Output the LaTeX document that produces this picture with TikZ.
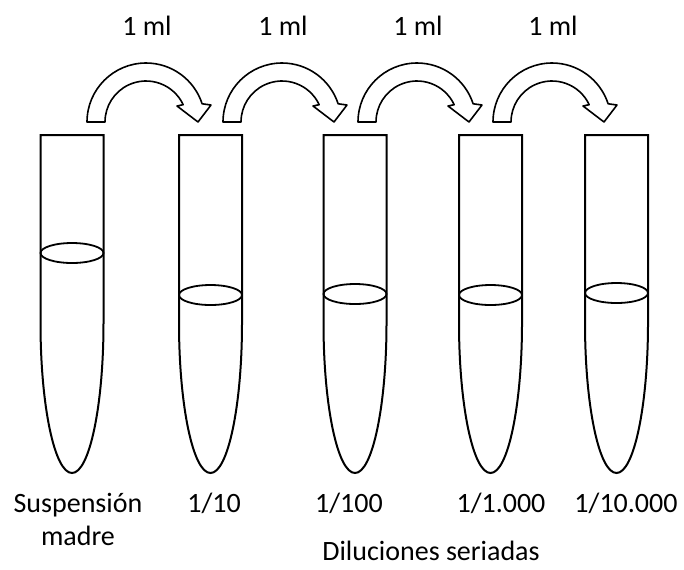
\documentclass[tikz,border=0pt]{standalone}
\usepackage{fontspec}
\setmainfont{Carlito}
\begin{document}
\begin{tikzpicture}[x=0.5pt, y=0.5pt, line width=1pt,
  font=\fontsize{14}{16.5}\selectfont,
  lbl/.style={inner sep=0pt, anchor=base, align=center},
  nivel/.style={line width=0.9pt},
  tubo/.pic={\draw (-31.5,0) -- (-31.5,-188)
      arc[start angle=180, end angle=360, x radius=31.5, y radius=150] -- (31.5,0) -- cycle;},
  flecha/.pic={\draw[line width=0.8pt, line join=round] (-59,0)
      arc[start angle=180, end angle=18, radius=59] -- (65,17) -- (52,0) -- (31,16)
      -- (25:41) arc[start angle=25, end angle=180, radius=41] -- cycle;}]
  \useasboundingbox (0,0) rectangle (684,-569);
  % boca de cada tubo (centro), borde superior en y=-135
  \coordinate (t1) at (72,-135); \coordinate (t2) at (210.5,-135); \coordinate (t3) at (355,-135);
  \coordinate (t4) at (490.5,-135); \coordinate (t5) at (616.5,-135);
  % nivel del líquido
  \coordinate (n1) at (72,-253); \coordinate (n2) at (210.5,-295); \coordinate (n3) at (355,-294);
  \coordinate (n4) at (490.5,-295); \coordinate (n5) at (616.5,-293);
  % centro del arco de cada flecha
  \coordinate (f1) at (146,-122); \coordinate (f2) at (282,-122);
  \coordinate (f3) at (417,-122); \coordinate (f4) at (552,-122);
  % tubos
  \pic at (t1) {tubo}; \pic at (t2) {tubo}; \pic at (t3) {tubo};
  \pic at (t4) {tubo}; \pic at (t5) {tubo};
  \draw[nivel] (n1) ellipse[x radius=31.5, y radius=10];
  \draw[nivel] (n2) ellipse[x radius=31.5, y radius=10];
  \draw[nivel] (n3) ellipse[x radius=31.5, y radius=10];
  \draw[nivel] (n4) ellipse[x radius=31.5, y radius=10];
  \draw[nivel] (n5) ellipse[x radius=31.5, y radius=10];
  % flechas de transferencia
  \pic at (f1) {flecha}; \pic at (f2) {flecha};
  \pic at (f3) {flecha}; \pic at (f4) {flecha};
  \node[lbl] (ml1) at (147,-35) {1 ml}; \node[lbl] (ml2) at (283,-35) {1 ml};
  \node[lbl] (ml3) at (418,-35) {1 ml}; \node[lbl] (ml4) at (553,-35) {1 ml};
  % rótulos de los tubos (base = última línea)
  \node[lbl] (e1) at (78,-545) {Suspensión\\madre};
  \node[lbl] (e2) at (214,-512) {1/10};
  \node[lbl] (e3) at (349,-512) {1/100};
  \node[lbl] (e4) at (501,-512) {1/1.000};
  \node[lbl] (e5) at (626,-512) {1/10.000};
  \node[lbl] (dil) at (431,-560) {Diluciones seriadas};
\end{tikzpicture}
\end{document}
